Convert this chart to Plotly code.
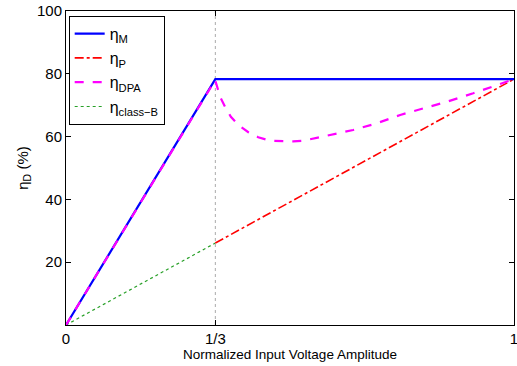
import plotly.graph_objects as go

# ---- data ----
breakpoint_x = 1/3

x_M = [0, 1/3, 1.0]
eta_M = [0, 78.3, 78.3]

x_B = [0, 1/3]
eta_B = [0, 26.1]

x_P = [1/3, 1.0]
eta_P = [26.1, 78.3]

x_DPA = [0, 0.333, 0.344, 0.355, 0.368, 0.385, 0.407, 0.429, 0.455, 0.481, 0.507,
         0.530, 0.589, 0.641, 0.693, 0.746, 0.798, 0.850, 0.909, 0.954, 1.0]
eta_DPA = [0, 78.0, 72.7, 69.5, 66.3, 63.7, 61.4, 59.8, 58.7, 58.5, 58.5,
           58.7, 60.5, 62.1, 64.2, 66.9, 69.0, 71.1, 73.8, 75.9, 78.3]

x_ticks = [0, 1/3, 1]
x_ticktext = ["0", "1/3", "1"]
y_ticks = [20, 40, 60, 80, 100]

FONT = "Liberation Sans, Arial, sans-serif"

fig = go.Figure()

fig.add_trace(go.Scatter(x=[breakpoint_x, breakpoint_x], y=[0, 100], mode="lines",
                         line=dict(color="#aaaaaa", width=1, dash="dot"),
                         showlegend=False, hoverinfo="skip"))

fig.add_trace(go.Scatter(x=x_B, y=eta_B, mode="lines", name="η<sub>class−B</sub>",
                         line=dict(color="rgb(40,160,40)", width=1.2, dash="dot"),
                         legendrank=4, legendgroup="g4"))
fig.add_trace(go.Scatter(x=x_P, y=eta_P, mode="lines", name="η<sub>P</sub>",
                         line=dict(color="#ff0000", width=1.6, dash="dashdot"),
                         legendrank=2, legendgroup="g2"))
fig.add_trace(go.Scatter(x=x_M, y=eta_M, mode="lines", name="η<sub>M</sub>",
                         line=dict(color="#0000ff", width=2.2),
                         legendrank=1, legendgroup="g1"))
fig.add_trace(go.Scatter(x=x_DPA, y=eta_DPA, mode="lines", name="η<sub>DPA</sub>",
                         line=dict(color="#ff00ff", width=2.2, dash="dash"),
                         legendrank=3, legendgroup="g3"))

fig.update_layout(
    width=517, height=366,
    margin=dict(l=66, r=3, t=11, b=41),
    paper_bgcolor="white", plot_bgcolor="white",
    font=dict(family=FONT, size=15, color="black"),
    showlegend=True,
    legend=dict(x=0.006, y=0.985, xanchor="left", yanchor="top",
                bordercolor="black", borderwidth=1, bgcolor="white",
                font=dict(size=16), tracegroupgap=0.5, traceorder="grouped"),
    xaxis=dict(range=[0, 1], tickvals=x_ticks, ticktext=x_ticktext, automargin=False,
               ticklabeloverflow="allow",
               showgrid=False, zeroline=False, showline=True, linecolor="black",
               linewidth=1, mirror="ticks", ticks="inside", ticklen=5, tickcolor="black",
               title=dict(text="Normalized Input Voltage Amplitude", font=dict(size=13.5), standoff=0),
               tickfont=dict(size=15)),
    yaxis=dict(range=[0, 100], tickvals=y_ticks, automargin=False,
               showgrid=False, zeroline=False, showline=True, linecolor="black",
               linewidth=1, mirror="ticks", ticks="inside", ticklen=5, tickcolor="black",
               title=dict(text="η<sub>D</sub> (%)", font=dict(size=15), standoff=4),
               tickfont=dict(size=15)),
)

fig.write_html("out.html", config={"displayModeBar": False},
               post_script="document.body.style.margin='0';document.body.style.overflow='hidden';")
